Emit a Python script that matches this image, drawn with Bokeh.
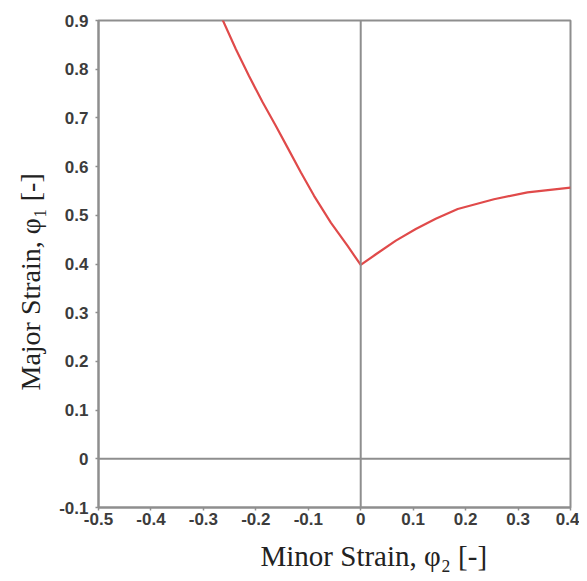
from bokeh.plotting import figure
from bokeh.models import Range1d, FixedTicker, Span, Title
from bokeh.embed import file_html
from bokeh.resources import INLINE

# Forming limit curve
minor_strain = [-0.264, -0.238, -0.213, -0.187, -0.162, -0.140, -0.114, -0.089, -0.057, -0.025, 0.0,
                0.029, 0.067, 0.105, 0.143, 0.185, 0.254, 0.318, 0.40]
major_strain = [0.903, 0.841, 0.786, 0.732, 0.684, 0.640, 0.588, 0.540, 0.485, 0.437, 0.398,
                0.420, 0.448, 0.472, 0.493, 0.513, 0.533, 0.547, 0.557]

x_ticks = [-0.5, -0.4, -0.3, -0.2, -0.1, 0.0, 0.1, 0.2, 0.3, 0.4]
x_tick_labels = ["-0.5", "-0.4", "-0.3", "-0.2", "-0.1", "0", "0.1", "0.2", "0.3", "0.4"]
y_ticks = [-0.1, 0.0, 0.1, 0.2, 0.3, 0.4, 0.5, 0.6, 0.7, 0.8, 0.9]
y_tick_labels = ["-0.1", "0", "0.1", "0.2", "0.3", "0.4", "0.5", "0.6", "0.7", "0.8", "0.9"]

x_title = "Minor Strain, φ₂ [-]"
y_title = "Major Strain, φ₁ [-]"

GRAY = "#8e8e8e"

p = figure(frame_width=472, frame_height=487,
           x_range=Range1d(-0.5, 0.4), y_range=Range1d(-0.1, 0.9),
           output_backend="svg", toolbar_location=None,
           min_border_left=98, min_border_top=20, min_border_right=9, min_border_bottom=66,
           background_fill_color="white", border_fill_color="white")

p.outline_line_color = GRAY
p.outline_line_width = 2
p.xgrid.visible = False
p.ygrid.visible = False

for ax, ticks, labels in ((p.xaxis[0], x_ticks, x_tick_labels), (p.yaxis[0], y_ticks, y_tick_labels)):
    ax.ticker = FixedTicker(ticks=ticks)
    ax.major_label_overrides = {t: l for t, l in zip(ticks, labels)}
    ax.axis_line_color = GRAY
    ax.axis_line_width = 2
    ax.major_tick_line_color = GRAY
    ax.major_tick_line_width = 1.5
    ax.major_tick_in = 0
    ax.major_tick_out = 3
    ax.minor_tick_line_color = None
    ax.major_label_text_font = "Liberation Sans"
    ax.major_label_text_font_style = "bold"
    ax.major_label_text_font_size = "17px"
    ax.major_label_text_color = "#3c3c3c"

p.xaxis.major_label_standoff = 2
p.yaxis.major_label_standoff = 7

p.add_layout(Span(location=0, dimension="height", line_color=GRAY, line_width=2))
p.add_layout(Span(location=0, dimension="width", line_color=GRAY, line_width=2))

p.line(minor_strain, major_strain, line_color="#e04a4a", line_width=2.2)

p.add_layout(Title(text=x_title, align="left", offset=162, standoff=20,
                   text_font="Liberation Serif", text_font_size="29px",
                   text_font_style="normal", text_color="#222222"), "below")
p.add_layout(Title(text=y_title, align="left", offset=117, standoff=22,
                   text_font="Liberation Serif", text_font_size="28px",
                   text_font_style="normal", text_color="#222222"), "left")

open("out.html", "w").write(file_html(p, INLINE))
